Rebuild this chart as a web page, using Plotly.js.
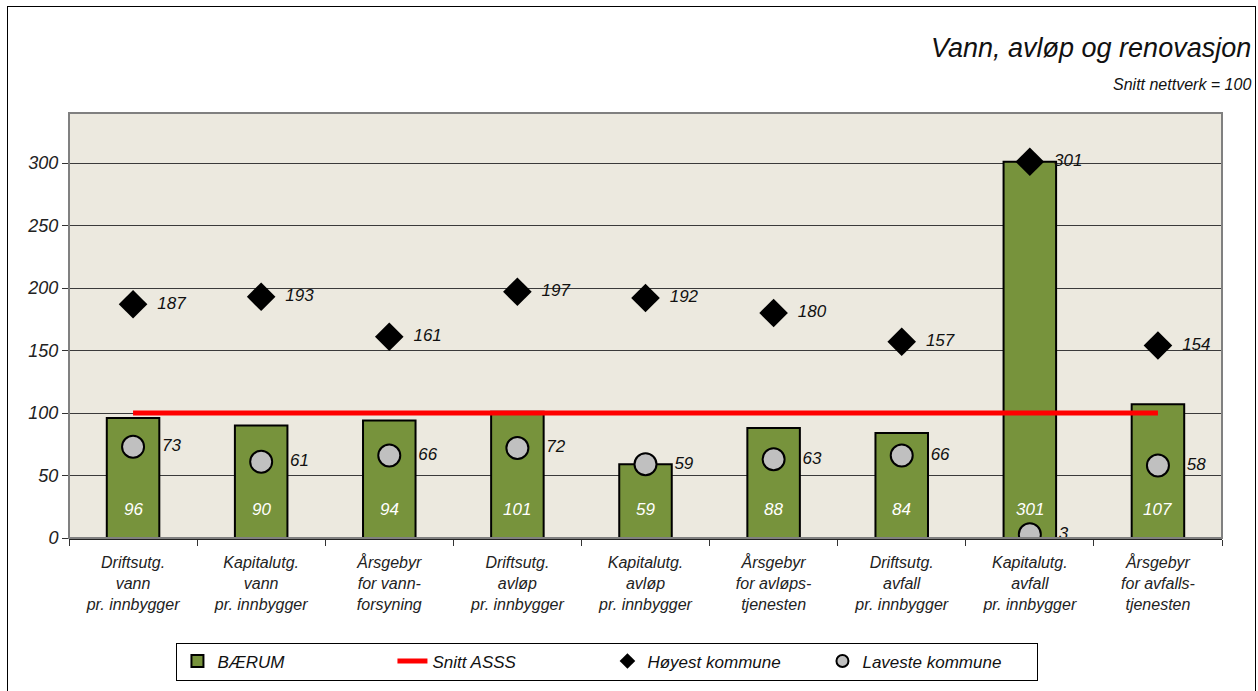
<!DOCTYPE html>
<html>
<head>
<meta charset="utf-8">
<script src="https://cdn.plot.ly/plotly-3.0.1.min.js"></script>
<style>
  body { margin: 0; background: #fff; }
  #chart { position: absolute; left: 0; top: 0; width: 1258px; height: 691px; }
  #frame { position: absolute; left: 7px; top: 6px; width: 1247px; height: 700px;
           border: 1px solid #000; pointer-events: none; }
</style>
</head>
<body>
<div id="chart"></div>
<div id="frame"></div>
<script>
const categories = [
  'Driftsutg.<br>vann<br>pr. innbygger',
  'Kapitalutg.<br>vann<br>pr. innbygger',
  'Årsgebyr<br>for vann-<br>forsyning',
  'Driftsutg.<br>avløp<br>pr. innbygger',
  'Kapitalutg.<br>avløp<br>pr. innbygger',
  'Årsgebyr<br>for avløps-<br>tjenesten',
  'Driftsutg.<br>avfall<br>pr. innbygger',
  'Kapitalutg.<br>avfall<br>pr. innbygger',
  'Årsgebyr<br>for avfalls-<br>tjenesten'
];
const baerum = [96, 90, 94, 101, 59, 88, 84, 301, 107];
const snittAsss = [100, 100, 100, 100, 100, 100, 100, 100, 100];
const hoyest = [187, 193, 161, 197, 192, 180, 157, 301, 154];
const laveste = [73, 61, 66, 72, 59, 63, 66, 3, 58];

const FONT = 'Liberation Sans, Arial, sans-serif';
const ital = (size, color) => ({ family: FONT, size, color: color || '#111', style: 'italic' });

const traces = [
  {
    type: 'bar', name: 'BÆRUM', x: categories, y: baerum,
    width: 0.41,
    marker: { color: '#77933C', line: { color: '#000', width: 2 } },
    hoverinfo: 'y'
  },
  {
    type: 'scatter', mode: 'lines', name: 'Snitt ASSS', x: categories, y: snittAsss,
    line: { color: '#ff0000', width: 5 }
  },
  {
    type: 'scatter', mode: 'markers+text', name: 'Høyest kommune', x: categories, y: hoyest,
    marker: { symbol: 'diamond', size: 22, color: '#000' },
    text: hoyest.map(v => '  ' + v), textposition: 'middle right',
    textfont: ital(17)
  },
  {
    type: 'scatter', mode: 'markers+text', name: 'Laveste kommune', x: categories, y: laveste,
    marker: { symbol: 'circle', size: 22, color: '#c0c0c0', line: { color: '#000', width: 2 } },
    text: laveste.map(v => '   ' + v), textposition: 'middle right',
    textfont: ital(17)
  }
];

// white value labels near the foot of each bar
const barLabels = categories.map((c, i) => ({
  x: c, y: 0, xref: 'x', yref: 'y', text: String(baerum[i]),
  showarrow: false, yanchor: 'middle', yshift: 29, font: ital(17, '#fff')
}));

const layout = {
  width: 1258, height: 691,
  margin: { l: 69, r: 36, t: 113, b: 152 },
  paper_bgcolor: '#fff', plot_bgcolor: '#ECE9DF',
  font: { family: FONT, color: '#111' },
  showlegend: true,
  legend: {
    orientation: 'h', x: 0.467, xanchor: 'center', y: -0.243, yanchor: 'top',
    bordercolor: '#000', borderwidth: 1, bgcolor: '#fff',
    font: ital(17), entrywidth: 170, itemsizing: 'constant'
  },
  xaxis: {
    type: 'category', range: [-0.5, 8.5], tickson: 'boundaries', ticks: 'outside', ticklen: 6,
    tickcolor: '#333', showline: true, linecolor: '#222', linewidth: 2, automargin: false,
    ticklabelstandoff: 9,
    showgrid: false, tickfont: ital(16, '#222'), fixedrange: true
  },
  yaxis: {
    range: [0, 340], dtick: 50, ticks: 'outside', ticklen: 6, tickcolor: '#333',
    showgrid: true, gridcolor: '#3a3a3a', gridwidth: 1, zeroline: false, automargin: false,
    showline: false, tickfont: ital(18, '#222'), fixedrange: true
  },
  shapes: [
    { type: 'rect', xref: 'paper', yref: 'paper', x0: 0, x1: 1, y0: 0, y1: 1,
      line: { color: '#808080', width: 2 } }
  ],
  annotations: [
    { text: 'Vann, avløp og renovasjon', xref: 'paper', yref: 'paper',
      x: 1.027, y: 1.152, xanchor: 'right', yanchor: 'middle', showarrow: false,
      font: ital(27, '#111') },
    { text: 'Snitt nettverk = 100', xref: 'paper', yref: 'paper',
      x: 1.027, y: 1.066, xanchor: 'right', yanchor: 'middle', showarrow: false,
      font: ital(16, '#111') }
  ].concat(barLabels)
};

Plotly.newPlot('chart', traces, layout, { displayModeBar: false, staticPlot: true });
</script>
</body>
</html>
